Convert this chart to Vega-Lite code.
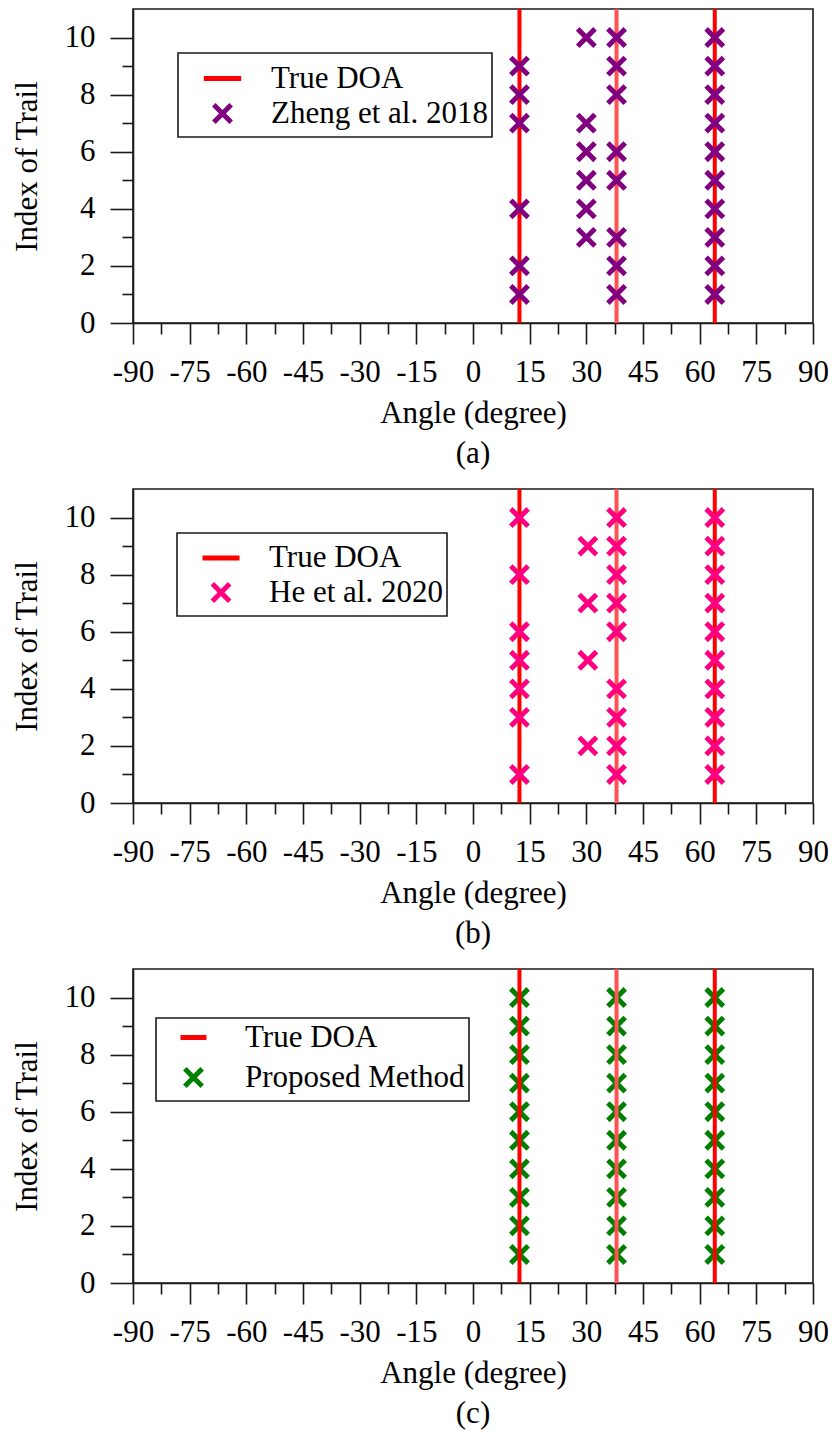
{
  "$schema": "https://vega.github.io/schema/vega-lite/v6.json",
  "background": "white",
  "padding": {"left": 10, "top": 6, "right": 8, "bottom": 2},
  "spacing": 16,
  "config": {
    "font": "Liberation Serif",
    "view": {"stroke": "#1a1a1a", "strokeWidth": 1.6},
    "axis": {
      "domainColor": "#1a1a1a", "domainWidth": 1.6,
      "tickColor": "#1a1a1a", "tickWidth": 1.6,
      "grid": false,
      "labelFont": "Liberation Serif", "labelFontSize": 31, "labelColor": "#000",
      "titleFont": "Liberation Serif", "titleFontSize": 31, "titleColor": "#000", "titleFontWeight": "normal",
      "labelFlush": false, "labelOverlap": false
    },
    "legend": {
      "labelFont": "Liberation Serif", "labelFontSize": 31, "labelColor": "#000", "labelLimit": 0,
      "strokeColor": "#1a1a1a", "strokeWidth": 1.6, "fillColor": "white",
      "padding": 4, "rowPadding": 0, "symbolStrokeWidth": 5, "symbolOffset": 19, "labelOffset": 27
    },
    "title": {"font": "Liberation Serif", "fontSize": 31, "fontWeight": "normal", "color": "#000"}
  },
  "datasets": {
    "doa": [
      {"angle": 12.3, "series": "True DOA"},
      {"angle": 38, "series": "True DOA"},
      {"angle": 64, "series": "True DOA"}
    ],
    "zheng": [
      {"angle": 12.3, "trial": 1, "series": "Zheng et al. 2018"},
      {"angle": 12.3, "trial": 2, "series": "Zheng et al. 2018"},
      {"angle": 12.3, "trial": 4, "series": "Zheng et al. 2018"},
      {"angle": 12.3, "trial": 7, "series": "Zheng et al. 2018"},
      {"angle": 12.3, "trial": 8, "series": "Zheng et al. 2018"},
      {"angle": 12.3, "trial": 9, "series": "Zheng et al. 2018"},
      {"angle": 30, "trial": 3, "series": "Zheng et al. 2018"},
      {"angle": 30, "trial": 4, "series": "Zheng et al. 2018"},
      {"angle": 30, "trial": 5, "series": "Zheng et al. 2018"},
      {"angle": 30, "trial": 6, "series": "Zheng et al. 2018"},
      {"angle": 30, "trial": 7, "series": "Zheng et al. 2018"},
      {"angle": 30, "trial": 10, "series": "Zheng et al. 2018"},
      {"angle": 38, "trial": 1, "series": "Zheng et al. 2018"},
      {"angle": 38, "trial": 2, "series": "Zheng et al. 2018"},
      {"angle": 38, "trial": 3, "series": "Zheng et al. 2018"},
      {"angle": 38, "trial": 5, "series": "Zheng et al. 2018"},
      {"angle": 38, "trial": 6, "series": "Zheng et al. 2018"},
      {"angle": 38, "trial": 8, "series": "Zheng et al. 2018"},
      {"angle": 38, "trial": 9, "series": "Zheng et al. 2018"},
      {"angle": 38, "trial": 10, "series": "Zheng et al. 2018"},
      {"angle": 64, "trial": 1, "series": "Zheng et al. 2018"},
      {"angle": 64, "trial": 2, "series": "Zheng et al. 2018"},
      {"angle": 64, "trial": 3, "series": "Zheng et al. 2018"},
      {"angle": 64, "trial": 4, "series": "Zheng et al. 2018"},
      {"angle": 64, "trial": 5, "series": "Zheng et al. 2018"},
      {"angle": 64, "trial": 6, "series": "Zheng et al. 2018"},
      {"angle": 64, "trial": 7, "series": "Zheng et al. 2018"},
      {"angle": 64, "trial": 8, "series": "Zheng et al. 2018"},
      {"angle": 64, "trial": 9, "series": "Zheng et al. 2018"},
      {"angle": 64, "trial": 10, "series": "Zheng et al. 2018"}
    ],
    "he": [
      {"angle": 12.3, "trial": 1, "series": "He et al. 2020"},
      {"angle": 12.3, "trial": 3, "series": "He et al. 2020"},
      {"angle": 12.3, "trial": 4, "series": "He et al. 2020"},
      {"angle": 12.3, "trial": 5, "series": "He et al. 2020"},
      {"angle": 12.3, "trial": 6, "series": "He et al. 2020"},
      {"angle": 12.3, "trial": 8, "series": "He et al. 2020"},
      {"angle": 12.3, "trial": 10, "series": "He et al. 2020"},
      {"angle": 30.4, "trial": 2, "series": "He et al. 2020"},
      {"angle": 30.4, "trial": 5, "series": "He et al. 2020"},
      {"angle": 30.4, "trial": 7, "series": "He et al. 2020"},
      {"angle": 30.4, "trial": 9, "series": "He et al. 2020"},
      {"angle": 38, "trial": 1, "series": "He et al. 2020"},
      {"angle": 38, "trial": 2, "series": "He et al. 2020"},
      {"angle": 38, "trial": 3, "series": "He et al. 2020"},
      {"angle": 38, "trial": 4, "series": "He et al. 2020"},
      {"angle": 38, "trial": 6, "series": "He et al. 2020"},
      {"angle": 38, "trial": 7, "series": "He et al. 2020"},
      {"angle": 38, "trial": 8, "series": "He et al. 2020"},
      {"angle": 38, "trial": 9, "series": "He et al. 2020"},
      {"angle": 38, "trial": 10, "series": "He et al. 2020"},
      {"angle": 64, "trial": 1, "series": "He et al. 2020"},
      {"angle": 64, "trial": 2, "series": "He et al. 2020"},
      {"angle": 64, "trial": 3, "series": "He et al. 2020"},
      {"angle": 64, "trial": 4, "series": "He et al. 2020"},
      {"angle": 64, "trial": 5, "series": "He et al. 2020"},
      {"angle": 64, "trial": 6, "series": "He et al. 2020"},
      {"angle": 64, "trial": 7, "series": "He et al. 2020"},
      {"angle": 64, "trial": 8, "series": "He et al. 2020"},
      {"angle": 64, "trial": 9, "series": "He et al. 2020"},
      {"angle": 64, "trial": 10, "series": "He et al. 2020"}
    ],
    "proposed": [
      {"angle": 12.3, "trial": 1, "series": "Proposed Method"},
      {"angle": 12.3, "trial": 2, "series": "Proposed Method"},
      {"angle": 12.3, "trial": 3, "series": "Proposed Method"},
      {"angle": 12.3, "trial": 4, "series": "Proposed Method"},
      {"angle": 12.3, "trial": 5, "series": "Proposed Method"},
      {"angle": 12.3, "trial": 6, "series": "Proposed Method"},
      {"angle": 12.3, "trial": 7, "series": "Proposed Method"},
      {"angle": 12.3, "trial": 8, "series": "Proposed Method"},
      {"angle": 12.3, "trial": 9, "series": "Proposed Method"},
      {"angle": 12.3, "trial": 10, "series": "Proposed Method"},
      {"angle": 38, "trial": 1, "series": "Proposed Method"},
      {"angle": 38, "trial": 2, "series": "Proposed Method"},
      {"angle": 38, "trial": 3, "series": "Proposed Method"},
      {"angle": 38, "trial": 4, "series": "Proposed Method"},
      {"angle": 38, "trial": 5, "series": "Proposed Method"},
      {"angle": 38, "trial": 6, "series": "Proposed Method"},
      {"angle": 38, "trial": 7, "series": "Proposed Method"},
      {"angle": 38, "trial": 8, "series": "Proposed Method"},
      {"angle": 38, "trial": 9, "series": "Proposed Method"},
      {"angle": 38, "trial": 10, "series": "Proposed Method"},
      {"angle": 64, "trial": 1, "series": "Proposed Method"},
      {"angle": 64, "trial": 2, "series": "Proposed Method"},
      {"angle": 64, "trial": 3, "series": "Proposed Method"},
      {"angle": 64, "trial": 4, "series": "Proposed Method"},
      {"angle": 64, "trial": 5, "series": "Proposed Method"},
      {"angle": 64, "trial": 6, "series": "Proposed Method"},
      {"angle": 64, "trial": 7, "series": "Proposed Method"},
      {"angle": 64, "trial": 8, "series": "Proposed Method"},
      {"angle": 64, "trial": 9, "series": "Proposed Method"},
      {"angle": 64, "trial": 10, "series": "Proposed Method"}
    ]
  },
  "vconcat": [
    {
      "width": 680, "height": 314,
      "title": {"text": "(a)", "orient": "bottom", "offset": 11},
      "resolve": {"axis": {"x": "independent", "y": "independent"}},
      "layer": [
        {
          "data": {"name": "doa"},
          "mark": {"type": "rule", "strokeWidth": 4},
          "encoding": {
            "x": {"field": "angle", "type": "quantitative", "scale": {"domain": [-90, 90], "nice": false},
                  "axis": {"orient": "bottom", "values": [-82.5, -67.5, -52.5, -37.5, -22.5, -7.5, 7.5, 22.5, 37.5, 52.5, 67.5, 82.5], "labels": false, "domain": false, "tickSize": 11, "title": null}},
            "color": {"condition": {"test": "datum.angle == 38", "value": "#ff5252"},
                      "field": "series", "type": "nominal",
                      "scale": {"domain": ["True DOA", "Zheng et al. 2018"], "range": ["#ff0000", "#800080"]},
                      "legend": {"title": null, "orient": "none", "legendX": 45, "legendY": 44}}
          }
        },
        {
          "data": {"name": "zheng"},
          "mark": {"type": "point", "opacity": 0},
          "encoding": {
            "x": {"field": "angle", "type": "quantitative", "axis": null},
            "y": {"field": "trial", "type": "quantitative", "scale": {"domain": [0, 11], "nice": false},
                  "axis": {"orient": "left", "values": [1, 3, 5, 7, 9], "labels": false, "domain": false, "tickSize": 11, "title": null}}
          }
        },
        {
          "data": {"name": "zheng"},
          "mark": {"type": "point", "filled": false, "strokeWidth": 5, "opacity": 1},
          "encoding": {
            "x": {"field": "angle", "type": "quantitative", "title": "Angle (degree)",
                  "axis": {"orient": "bottom", "values": [-90, -75, -60, -45, -30, -15, 0, 15, 30, 45, 60, 75, 90], "labelExpr": "datum.value", "tickSize": 21, "labelPadding": 13, "titlePadding": 11}},
            "y": {"field": "trial", "type": "quantitative", "title": "Index of Trail",
                  "axis": {"orient": "left", "values": [0, 2, 4, 6, 8, 10], "tickSize": 23, "labelPadding": 15, "titlePadding": 21}},
            "color": {"field": "series", "type": "nominal", "legend": {"title": null, "orient": "none", "legendX": 45, "legendY": 44}},
            "shape": {"field": "series", "type": "nominal",
                      "scale": {"domain": ["True DOA", "Zheng et al. 2018"], "range": ["stroke", "M-1,-1L1,1M1,-1L-1,1"]},
                      "legend": {"title": null, "orient": "none", "legendX": 45, "legendY": 44}},
            "size": {"field": "series", "type": "nominal",
                     "scale": {"type": "point", "domain": ["True DOA", "Zheng et al. 2018"], "range": [1400, 300], "padding": 0},
                     "legend": {"title": null, "orient": "none", "legendX": 45, "legendY": 44}}
          }
        }
      ]
    },
    {
      "width": 680, "height": 314,
      "title": {"text": "(b)", "orient": "bottom", "offset": 11},
      "resolve": {"axis": {"x": "independent", "y": "independent"}},
      "layer": [
        {
          "data": {"name": "doa"},
          "mark": {"type": "rule", "strokeWidth": 4},
          "encoding": {
            "x": {"field": "angle", "type": "quantitative", "scale": {"domain": [-90, 90], "nice": false},
                  "axis": {"orient": "bottom", "values": [-82.5, -67.5, -52.5, -37.5, -22.5, -7.5, 7.5, 22.5, 37.5, 52.5, 67.5, 82.5], "labels": false, "domain": false, "tickSize": 11, "title": null}},
            "color": {"condition": {"test": "datum.angle == 38", "value": "#ff5252"},
                      "field": "series", "type": "nominal",
                      "scale": {"domain": ["True DOA", "He et al. 2020"], "range": ["#ff0000", "#ff0080"]},
                      "legend": {"title": null, "orient": "none", "legendX": 44, "legendY": 44}}
          }
        },
        {
          "data": {"name": "he"},
          "mark": {"type": "point", "opacity": 0},
          "encoding": {
            "x": {"field": "angle", "type": "quantitative", "axis": null},
            "y": {"field": "trial", "type": "quantitative", "scale": {"domain": [0, 11], "nice": false},
                  "axis": {"orient": "left", "values": [1, 3, 5, 7, 9], "labels": false, "domain": false, "tickSize": 11, "title": null}}
          }
        },
        {
          "data": {"name": "he"},
          "mark": {"type": "point", "filled": false, "strokeWidth": 5, "opacity": 1},
          "encoding": {
            "x": {"field": "angle", "type": "quantitative", "title": "Angle (degree)",
                  "axis": {"orient": "bottom", "values": [-90, -75, -60, -45, -30, -15, 0, 15, 30, 45, 60, 75, 90], "labelExpr": "datum.value", "tickSize": 21, "labelPadding": 13, "titlePadding": 11}},
            "y": {"field": "trial", "type": "quantitative", "title": "Index of Trail",
                  "axis": {"orient": "left", "values": [0, 2, 4, 6, 8, 10], "tickSize": 23, "labelPadding": 15, "titlePadding": 21}},
            "color": {"field": "series", "type": "nominal", "legend": {"title": null, "orient": "none", "legendX": 44, "legendY": 44}},
            "shape": {"field": "series", "type": "nominal",
                      "scale": {"domain": ["True DOA", "He et al. 2020"], "range": ["stroke", "M-1,-1L1,1M1,-1L-1,1"]},
                      "legend": {"title": null, "orient": "none", "legendX": 44, "legendY": 44}},
            "size": {"field": "series", "type": "nominal",
                     "scale": {"type": "point", "domain": ["True DOA", "He et al. 2020"], "range": [1369, 300], "padding": 0},
                     "legend": {"title": null, "orient": "none", "legendX": 44, "legendY": 44}}
          }
        }
      ]
    },
    {
      "width": 680, "height": 314,
      "title": {"text": "(c)", "orient": "bottom", "offset": 11},
      "resolve": {"axis": {"x": "independent", "y": "independent"}},
      "layer": [
        {
          "data": {"name": "proposed"},
          "mark": {"type": "point", "opacity": 0},
          "encoding": {
            "x": {"field": "angle", "type": "quantitative", "scale": {"domain": [-90, 90], "nice": false},
                  "axis": {"orient": "bottom", "values": [-82.5, -67.5, -52.5, -37.5, -22.5, -7.5, 7.5, 22.5, 37.5, 52.5, 67.5, 82.5], "labels": false, "domain": false, "tickSize": 11, "title": null}},
            "y": {"field": "trial", "type": "quantitative", "scale": {"domain": [0, 11], "nice": false},
                  "axis": {"orient": "left", "values": [1, 3, 5, 7, 9], "labels": false, "domain": false, "tickSize": 11, "title": null}}
          }
        },
        {
          "data": {"name": "proposed"},
          "mark": {"type": "point", "filled": false, "strokeWidth": 5, "opacity": 1},
          "encoding": {
            "x": {"field": "angle", "type": "quantitative", "title": "Angle (degree)",
                  "axis": {"orient": "bottom", "values": [-90, -75, -60, -45, -30, -15, 0, 15, 30, 45, 60, 75, 90], "labelExpr": "datum.value", "tickSize": 21, "labelPadding": 13, "titlePadding": 11}},
            "y": {"field": "trial", "type": "quantitative", "title": "Index of Trail",
                  "axis": {"orient": "left", "values": [0, 2, 4, 6, 8, 10], "tickSize": 23, "labelPadding": 15, "titlePadding": 21}},
            "color": {"field": "series", "type": "nominal",
                      "scale": {"domain": ["True DOA", "Proposed Method"], "range": ["#ff0000", "#008000"]},
                      "legend": {"title": null, "orient": "none", "legendX": 23, "legendY": 49, "rowPadding": 5, "symbolOffset": 18, "labelOffset": 36}},
            "shape": {"field": "series", "type": "nominal",
                      "scale": {"domain": ["True DOA", "Proposed Method"], "range": ["stroke", "M-1,-1L1,1M1,-1L-1,1"]},
                      "legend": {"title": null, "orient": "none", "legendX": 23, "legendY": 49, "rowPadding": 5, "symbolOffset": 18, "labelOffset": 36}},
            "size": {"field": "series", "type": "nominal",
                     "scale": {"type": "point", "domain": ["True DOA", "Proposed Method"], "range": [676, 300], "padding": 0},
                     "legend": {"title": null, "orient": "none", "legendX": 23, "legendY": 49, "rowPadding": 5, "symbolOffset": 18, "labelOffset": 36}}
          }
        },
        {
          "data": {"name": "doa"},
          "mark": {"type": "rule", "strokeWidth": 4},
          "encoding": {
            "x": {"field": "angle", "type": "quantitative", "axis": null},
            "color": {"condition": {"test": "datum.angle == 38", "value": "#ff5252"},
                      "field": "series", "type": "nominal",
                      "legend": {"title": null, "orient": "none", "legendX": 23, "legendY": 49, "rowPadding": 5, "symbolOffset": 18, "labelOffset": 36}}
          }
        }
      ]
    }
  ],
  "resolve": {
    "scale": {"color": "independent", "shape": "independent", "size": "independent"},
    "legend": {"color": "independent", "shape": "independent", "size": "independent"}
  }
}
